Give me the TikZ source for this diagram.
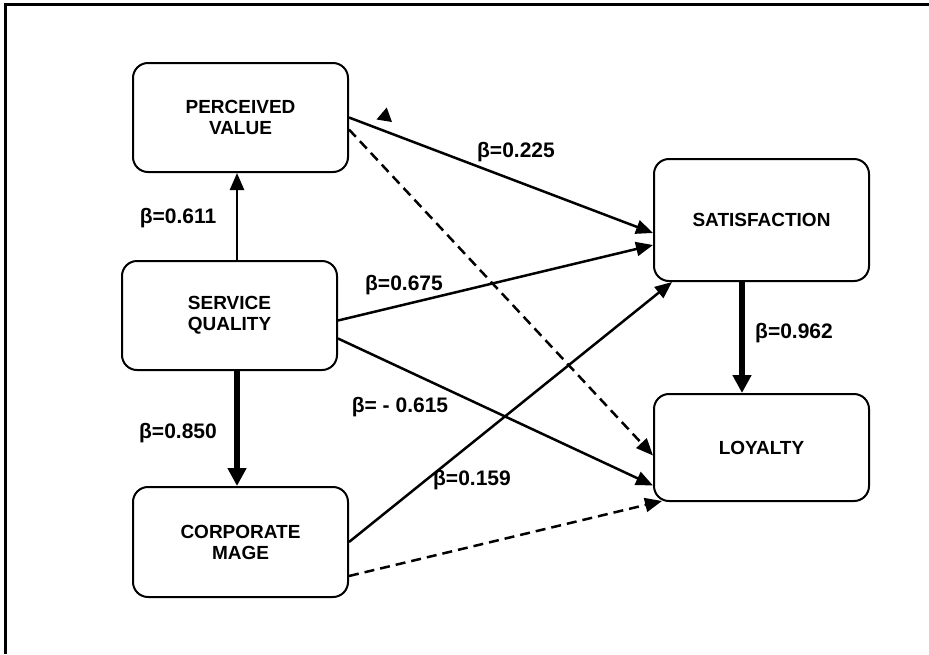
\documentclass[tikz,border=0pt]{standalone}
\usepackage{fontspec}
\setmainfont{Liberation Sans}
\usetikzlibrary{arrows.meta}

\tikzset{
  construct/.style={rectangle,draw,line width=2pt,rounded corners=15pt,minimum width=215pt,
    align=center,font=\fontsize{19}{21}\selectfont\bfseries},
  beta/.style={font=\fontsize{21}{24}\selectfont\bfseries},
  path/.style={line width=2.5pt,-{Triangle[length=17pt,width=14pt]}},
  strong/.style={line width=6pt,-{Triangle[length=18pt,width=18pt]}},
  nonsig/.style={path,dash pattern=on 10pt off 6pt}
}

\begin{document}
\begin{tikzpicture}[x=1pt,y=-1pt]
\useasboundingbox (0,0) rectangle (929,654);
% frame
\draw[line width=3pt] (5.5,654) -- (5.5,4.5) -- (929,4.5);

% constructs
\node[construct,minimum height=109pt] at(240.5,117.5) (pv) {PERCEIVED\\VALUE};
\node[construct,minimum height=109pt] at(229.5,315.5) (sq) {SERVICE\\QUALITY};
\node[construct,minimum height=110pt] at(240.5,542) (ci) {CORPORATE\\MAGE};
\node[construct,minimum height=122pt] at(761.5,220) (sat) {SATISFACTION};
\node[construct,minimum height=107pt] at(761.5,447.5) (loy) {LOYALTY};

% service quality
\draw[path] ([xshift=7.5pt]sq.north) -- ([xshift=-3.5pt]pv.south);
\draw[strong] ([xshift=7.5pt]sq.south) -- ([xshift=-3.5pt]ci.north);
\draw[path] ([yshift=-5pt]sq.east) -- ([yshift=-25pt]sat.west);
\draw[path] ([yshift=-23pt]sq.east) -- ([yshift=-38pt]loy.west);

% perceived value
\draw[path] (pv.east) -- ([yshift=-13pt]sat.west);
\draw[nonsig] ([yshift=-12pt]pv.east) -- ([yshift=-8pt]loy.west);

% corporate image
\draw[path] (ci.east) -- ([xshift=19pt]sat.south west);
\draw[nonsig] ([yshift=-34pt]ci.east) -- ([xshift=9pt,yshift=1pt]loy.south west);

% satisfaction
\draw[strong] ([xshift=-19.5pt]sat.south) -- ([xshift=-19.5pt]loy.north);

% loose arrow tip
\fill (386.7,107.5) -- (376.5,119.5) -- (392,122) -- cycle;

% coefficients
\node[beta] at(178,218) (b1) {β=0.611};
\node[beta] at(516,152) (b2) {β=0.225};
\node[beta] at(404,285) (b3) {β=0.675};
\node[beta] at(400,407) (b4) {β= - 0.615};
\node[beta] at(178,433) (b5) {β=0.850};
\node[beta] at(472,480) (b6) {β=0.159};
\node[beta] at(794,333) (b7) {β=0.962};
\end{tikzpicture}
\end{document}
